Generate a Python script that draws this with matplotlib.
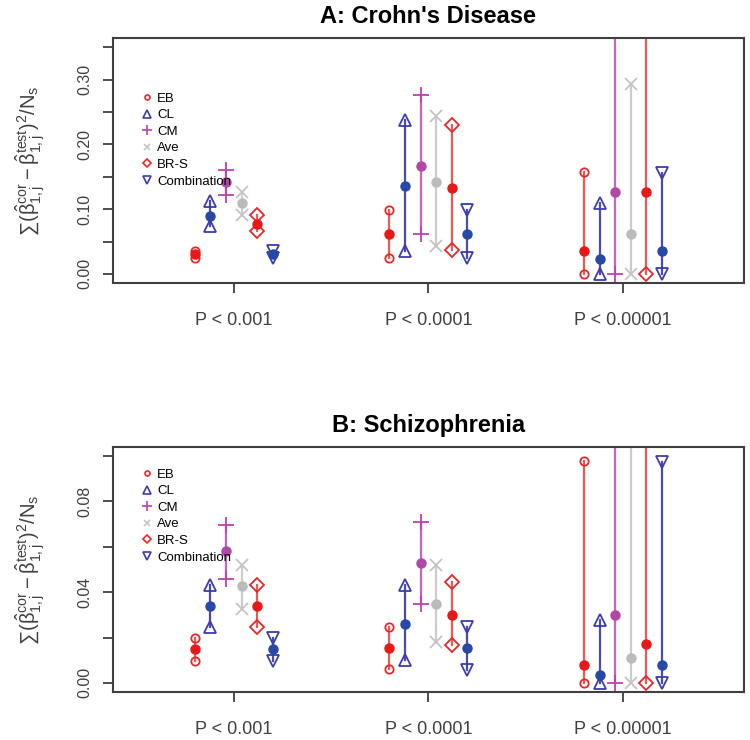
import numpy as np
import matplotlib
matplotlib.use('Agg')
import matplotlib.pyplot as plt
from matplotlib.lines import Line2D

plt.rcParams['font.family'] = ['Liberation Sans', 'DejaVu Sans']
plt.rcParams['mathtext.fontset'] = 'custom'
plt.rcParams['mathtext.rm'] = 'Liberation Sans'
plt.rcParams['mathtext.it'] = 'Liberation Sans'
plt.rcParams['mathtext.bf'] = 'Liberation Sans:bold'

methods = ['EB', 'CL', 'CM', 'Ave', 'BR-S', 'Combination']
thresholds = ['P < 0.001', 'P < 0.0001', 'P < 0.00001']

# panel A: Crohn's disease (rows = methods, cols = thresholds)
a_mid = [[0.030, 0.061, 0.036],
         [0.090, 0.136, 0.023],
         [0.142, 0.167, 0.127],
         [0.110, 0.142, 0.062],
         [0.077, 0.132, 0.127],
         [0.030, 0.061, 0.036]]
a_low = [[0.025, 0.025, 0.000],
         [0.074, 0.036, 0.000],
         [0.122, 0.061, 0.000],
         [0.091, 0.043, 0.000],
         [0.066, 0.037, 0.000],
         [0.024, 0.025, 0.000]]
a_high = [[0.036, 0.098, 0.158],
          [0.112, 0.238, 0.109],
          [0.160, 0.276, 0.600],
          [0.127, 0.244, 0.293],
          [0.091, 0.230, 0.600],
          [0.036, 0.098, 0.156]]

# panel B: schizophrenia
b_mid = [[0.0151, 0.0154, 0.0077],
         [0.0340, 0.0260, 0.0033],
         [0.0580, 0.0530, 0.0300],
         [0.0428, 0.0347, 0.0110],
         [0.0340, 0.0300, 0.0173],
         [0.0150, 0.0154, 0.0077]]
b_low = [[0.0096, 0.0062, 0.0],
         [0.0247, 0.0099, 0.0],
         [0.0458, 0.0347, 0.0],
         [0.0326, 0.0180, 0.0],
         [0.0247, 0.0169, 0.0],
         [0.0096, 0.0055, 0.0]]
b_high = [[0.0200, 0.0247, 0.0978],
          [0.0430, 0.0430, 0.0277],
          [0.0695, 0.0710, 0.2000],
          [0.0520, 0.0520, 0.2000],
          [0.0430, 0.0444, 0.2000],
          [0.0200, 0.0247, 0.0973]]

offsets = [-0.2, -0.12, -0.04, 0.04, 0.12, 0.2]
markers = ['o', '^', '+', 'x', 'D', 'v']
msizes = [6, 9, 12, 8, 7.5, 9]
line_cols = ['#F05858', '#4A4AB0', '#C864B8', '#CCCCCC', '#F05858', '#4A4AB0']
mark_cols = ['#E82828', '#3C3CB0', '#C040B0', '#C4C4C4', '#E82828', '#3C3CB0']
dot_cols = ['#E81818', '#2848A8', '#B048A8', '#BBBBBB', '#E81818', '#2848A8']

fig = plt.figure(figsize=(7.5, 7.4), dpi=100)
axA = fig.add_axes([0.1507, 0.6176, 0.841, 0.331])
axB = fig.add_axes([0.1507, 0.0649, 0.841, 0.331])

ylabel = r'$\sum(\hat{\beta}_{1,j}^{cor} - \hat{\beta}_{1,j}^{test})^2/N_s$'


def draw(ax, mid, low, high, title, ylim, yticks, ylabels, leg_y):
    x = np.arange(1, len(thresholds) + 1)
    for i, m in enumerate(methods):
        xs = x + offsets[i]
        for j in range(len(thresholds)):
            ax.plot([xs[j], xs[j]], [low[i][j], high[i][j]], color=line_cols[i], lw=1.6, zorder=2)
        ax.plot(xs, low[i], ls='none', marker=markers[i], ms=msizes[i], mfc='none',
                mec=mark_cols[i], mew=1.3, zorder=3)
        ax.plot(xs, high[i], ls='none', marker=markers[i], ms=msizes[i], mfc='none',
                mec=mark_cols[i], mew=1.3, zorder=3)
        ax.plot(xs, mid[i], ls='none', marker='o', ms=6.5, color=dot_cols[i], zorder=4)
    ax.set_xlim(0.38, 3.62)
    ax.set_ylim(*ylim)
    ax.set_xticks(x)
    ax.set_xticklabels(thresholds, fontsize=13, color='#404040')
    ax.set_yticks(yticks)
    ax.set_yticklabels(ylabels, fontsize=11.5, color='#404040', rotation=90, va='center')
    ax.tick_params(axis='x', length=7, width=1.3, color='#404040', pad=14)
    ax.tick_params(axis='y', length=7, width=1.3, color='#404040', pad=8)
    for s in ax.spines.values():
        s.set_color('#404040')
        s.set_linewidth(1.5)
    ax.set_title(title, fontsize=17, fontweight='bold', pad=11)
    ax.set_ylabel(ylabel, fontsize=14.5, color='#404040')
    ax.yaxis.set_label_coords(-0.105, 0.5)
    handles = [Line2D([], [], ls='none', marker=markers[i], ms=msizes[i] * 0.6, mfc='none',
                      mec=mark_cols[i], mew=1.2) for i in range(len(methods))]
    ax.legend(handles, methods, loc='upper left', bbox_to_anchor=(0.045, leg_y), frameon=False,
              fontsize=9.5, handlelength=0.8, handletextpad=0.4, labelspacing=0.33,
              borderpad=0, borderaxespad=0)


a_ticks = np.arange(0, 0.351, 0.05)
a_labels = ['0.00', '', '0.10', '', '0.20', '', '0.30', '']
draw(axA, a_mid, a_low, a_high, "A: Crohn's Disease", (-0.014, 0.364), a_ticks, a_labels, 0.778)

b_ticks = np.arange(0, 0.101, 0.02)
b_labels = ['0.00', '', '0.04', '', '0.08', '']
draw(axB, b_mid, b_low, b_high, 'B: Schizophrenia', (-0.004, 0.104), b_ticks, b_labels, 0.913)

fig.savefig('out.png', dpi=100)
